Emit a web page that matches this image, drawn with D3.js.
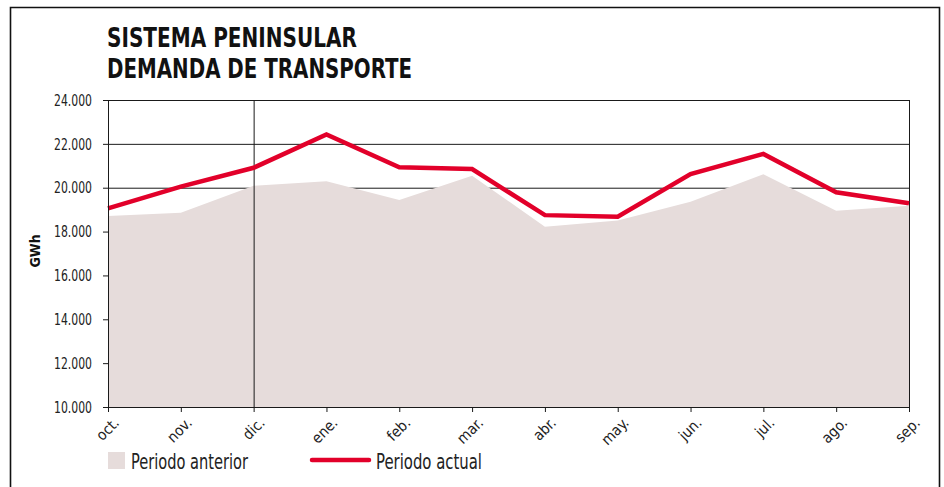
<!DOCTYPE html>
<html>
<head>
<meta charset="utf-8">
<script src="https://cdn.jsdelivr.net/npm/d3@7"></script>
<style>
body { margin:0; background:#fff; }
svg text { font-family: "Liberation Sans Narrow", "DejaVu Sans Condensed", "DejaVu Sans", sans-serif; font-stretch: condensed; fill:#222; }
</style>
</head>
<body>
<div id="chart"></div>
<script>
var months = ["oct.","nov.","dic.","ene.","feb.","mar.","abr.","may.","jun.","jul.","ago.","sep."];
var anterior = [18710,18860,20090,20300,19440,20550,18220,18500,19360,20610,18950,19180];
var actual = [19060,20050,20910,22430,20930,20850,18750,18680,20620,21540,19790,19290];
var yTicks = [10000,12000,14000,16000,18000,20000,22000,24000];

var W = 944, H = 487;
var mLeft = 108, mRight = 909, mTop = 100, mBottom = 407;

var svg = d3.select("#chart").append("svg")
    .attr("width", W)
    .attr("height", H);

// outer frame (no bottom edge)
svg.append("path")
    .attr("d", "M10.5,487 V7.5 H939.5 V487")
    .attr("fill","none")
    .attr("stroke","#111")
    .attr("stroke-width",1.6);

svg.append("text").attr("x",107).attr("y",47)
    .attr("textLength",250).attr("lengthAdjust","spacingAndGlyphs")
    .style("font-size","27px").style("font-weight","bold").style("fill","#111")
    .text("SISTEMA PENINSULAR");
svg.append("text").attr("x",107).attr("y",78)
    .attr("textLength",305).attr("lengthAdjust","spacingAndGlyphs")
    .style("font-size","27px").style("font-weight","bold").style("fill","#111")
    .text("DEMANDA DE TRANSPORTE");

var x = d3.scalePoint().domain(months).range([mLeft, mRight]);
var y = d3.scaleLinear().domain([10000,24000]).range([mBottom, mTop]);

// gridlines behind the area
svg.append("g").selectAll("line")
    .data(yTicks.filter(function(d){ return d > 10000; }))
    .enter().append("line")
    .attr("x1", mLeft).attr("x2", mRight)
    .attr("y1", function(d){ return y(d) + 0.5; })
    .attr("y2", function(d){ return y(d) + 0.5; })
    .attr("stroke", "#1a1a1a")
    .attr("stroke-width", 1);

var area = d3.area()
    .x(function(d,i){ return x(months[i]); })
    .y0(y(10000))
    .y1(function(d){ return y(d); });

svg.append("path")
    .datum(anterior)
    .attr("d", area)
    .attr("fill", "#e6dcdb");

// right border and vertical marker at dic.
svg.append("line").attr("x1",mRight+0.5).attr("x2",mRight+0.5)
    .attr("y1",mTop).attr("y2",mBottom).attr("stroke","#1a1a1a");
svg.append("line").attr("x1",x("dic.")+0.5).attr("x2",x("dic.")+0.5)
    .attr("y1",mTop).attr("y2",mBottom).attr("stroke","#1a1a1a");

var line = d3.line()
    .x(function(d,i){ return x(months[i]); })
    .y(function(d){ return y(d); });

svg.append("path")
    .datum(actual)
    .attr("d", line)
    .attr("fill","none")
    .attr("stroke","#e2002a")
    .attr("stroke-width",4.5)
    .attr("stroke-linejoin","miter");

// axes
var yAxis = svg.append("g")
    .attr("transform","translate("+mLeft+",0)")
    .call(d3.axisLeft(y).tickValues(yTicks).tickSize(5).tickPadding(11)
        .tickFormat(function(d){ return d3.format(",")(d).replace(",","."); }));
yAxis.selectAll("text").style("font-size","16.5px")
    .attr("textLength",38).attr("lengthAdjust","spacingAndGlyphs");

var xAxis = svg.append("g")
    .attr("transform","translate(0,"+mBottom+")")
    .call(d3.axisBottom(x).tickSize(5));
xAxis.selectAll("text")
    .style("font-size","15px")
    .style("text-anchor","end")
    .attr("dy",null)
    .attr("transform","translate(6,11) rotate(-45)");

svg.selectAll(".domain").attr("stroke","#1a1a1a");
svg.selectAll(".tick line").attr("stroke","#1a1a1a");

svg.append("text")
    .attr("transform","translate(40,251) rotate(-90)")
    .style("text-anchor","middle")
    .style("font-size","14px").style("font-weight","bold").style("fill","#111")
    .text("GWh");

// top border of plot
svg.append("line").attr("x1",mLeft).attr("x2",mRight+1)
    .attr("y1",mTop+0.5).attr("y2",mTop+0.5).attr("stroke","#1a1a1a");

// legend
svg.append("rect").attr("x",108).attr("y",452).attr("width",17).attr("height",17)
    .attr("fill","#e6dcdb");
svg.append("text").attr("x",131).attr("y",469)
    .attr("textLength",117).attr("lengthAdjust","spacingAndGlyphs")
    .style("font-size","21px").text("Periodo anterior");
svg.append("line").attr("x1",312).attr("x2",369).attr("y1",460).attr("y2",460)
    .attr("stroke","#e2002a").attr("stroke-width",4.5).attr("stroke-linecap","round");
svg.append("text").attr("x",376).attr("y",469)
    .attr("textLength",106).attr("lengthAdjust","spacingAndGlyphs")
    .style("font-size","21px").text("Periodo actual");
</script>
</body>
</html>
